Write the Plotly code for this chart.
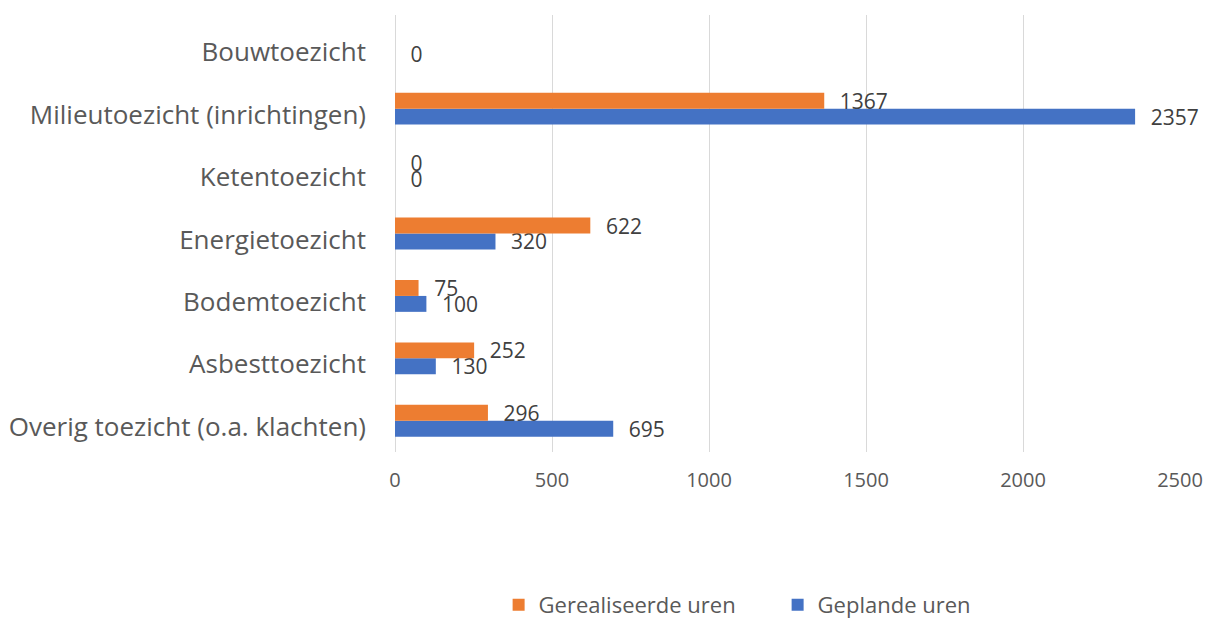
import plotly.graph_objects as go

categories = [
    "Overig toezicht (o.a. klachten)",
    "Asbesttoezicht",
    "Bodemtoezicht",
    "Energietoezicht",
    "Ketentoezicht",
    "Milieutoezicht (inrichtingen)",
    "Bouwtoezicht",
]
geplande_uren = [695, 130, 100, 320, 0, 2357, 0]
gerealiseerde_uren = [296, 252, 75, 622, 0, 1367, None]
x_ticks = [0, 500, 1000, 1500, 2000, 2500]

FONT = "Open Sans"
TXT = "#404040"

fig = go.Figure()
fig.add_trace(go.Bar(
    y=categories, x=geplande_uren, orientation="h", name="Geplande uren",
    marker=dict(color="#4472C4", line=dict(width=0)),
    texttemplate="\u2002\u200a%{x}", textposition="outside", cliponaxis=False,
    constraintext="none",
    textfont=dict(family=FONT, size=21, color=TXT),
))
fig.add_trace(go.Bar(
    y=categories, x=gerealiseerde_uren, orientation="h", name="Gerealiseerde uren",
    marker=dict(color="#ED7D31", line=dict(width=0)),
    texttemplate="\u2002\u200a%{x}", textposition="outside", cliponaxis=False,
    constraintext="none",
    textfont=dict(family=FONT, size=21, color=TXT),
))

fig.update_layout(
    width=1206, height=619,
    margin=dict(l=395, r=26, t=15, b=167, autoexpand=False),
    barmode="group", bargap=0.49, bargroupgap=0,
    paper_bgcolor="white", plot_bgcolor="white",
    font=dict(family=FONT, color="#595959"),
    xaxis=dict(
        range=[0, 2500], tickvals=x_ticks, showgrid=True, gridcolor="#d9d9d9",
        gridwidth=1, zeroline=True, zerolinecolor="#d9d9d9", zerolinewidth=1,
        showline=False, tickfont=dict(family=FONT, size=20, color="#595959"),
        ticks="", ticklabelstandoff=14, automargin=False,
    ),
    yaxis=dict(
        showgrid=False, showline=False, ticks="",
        tickfont=dict(family=FONT, size=26, color="#595959"),
        ticklabelstandoff=28, ticklabelshift=6, automargin=False,
    ),
    showlegend=True,
    legend=dict(
        orientation="h", x=0.132, xanchor="left", y=-0.35, yanchor="middle",
        traceorder="reversed", font=dict(family=FONT, size=22, color="#595959"),
        entrywidth=234, entrywidthmode="pixels",
    ),
)

fig.write_html("out.html", config={"displayModeBar": False},
               post_script="document.body.style.margin='0';")
